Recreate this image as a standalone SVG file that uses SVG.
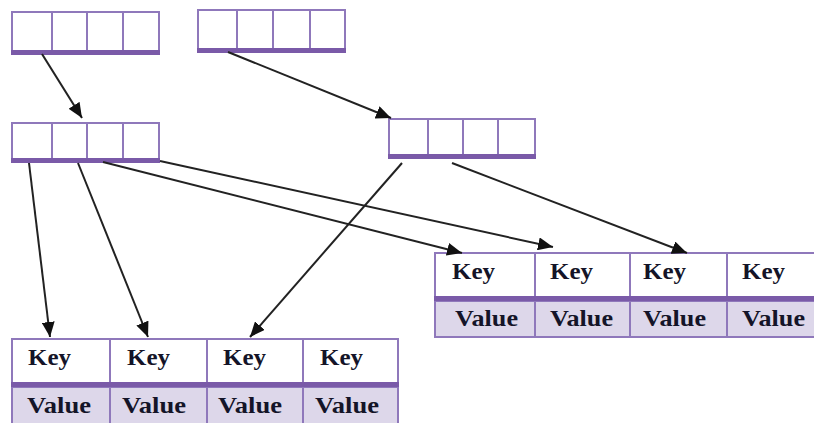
<svg xmlns="http://www.w3.org/2000/svg" width="814" height="423" viewBox="0 0 814 423">
  <style>
    .cell { fill: #ffffff; stroke: #8f78bb; stroke-width: 2; }
    .vcell { fill: #ddd7ea; stroke: #8f78bb; stroke-width: 2; }
    .div { stroke: #8f78bb; stroke-width: 2; }
    .bar { fill: #7a5aa8; }
    .edge { stroke: #222222; stroke-width: 2; fill: none; marker-end: url(#head); }
    .lbl { font-family: "Liberation Serif", "Times New Roman", serif; font-weight: bold; font-size: 23px; fill: #141428; }
  </style>
  <defs>
    <marker id="head" markerUnits="userSpaceOnUse" markerWidth="15" markerHeight="13" refX="15" refY="6.5" orient="auto">
      <path d="M0,0 L15,6.5 L0,13 z" fill="#111111"/>
    </marker>
  </defs>
  <rect width="814" height="423" fill="#ffffff"/>

  <!-- index arrays -->
  <g id="array-top-left">
    <rect class="cell" x="12" y="12" width="147" height="40"/>
    <path class="div" d="M52,12V52M87,12V52M123,12V52"/>
    <rect class="bar" x="11" y="50" width="149" height="5"/>
  </g>
  <g id="array-top-right">
    <rect class="cell" x="198" y="10" width="147" height="40"/>
    <path class="div" d="M237,10V50M273,10V50M310,10V50"/>
    <rect class="bar" x="197" y="48" width="149" height="5"/>
  </g>
  <g id="array-mid-left">
    <rect class="cell" x="12" y="123" width="147" height="37"/>
    <path class="div" d="M52,123V160M87,123V160M123,123V160"/>
    <rect class="bar" x="11" y="158" width="149" height="5"/>
  </g>
  <g id="array-mid-right">
    <rect class="cell" x="389" y="119" width="146" height="37"/>
    <path class="div" d="M428,119V156M463,119V156M498,119V156"/>
    <rect class="bar" x="388" y="154" width="148" height="5"/>
  </g>

  <!-- key/value table, right -->
  <g id="table-right">
    <rect class="cell" x="435" y="253" width="385" height="44"/>
    <rect class="vcell" x="435" y="301" width="385" height="36"/>
    <path class="div" d="M535,253V337M630,253V337M727,253V337"/>
    <rect class="bar" x="434" y="296" width="386" height="5"/>
    <text class="lbl" x="452" y="279" textLength="43" lengthAdjust="spacingAndGlyphs">Key</text>
    <text class="lbl" x="550" y="279" textLength="43" lengthAdjust="spacingAndGlyphs">Key</text>
    <text class="lbl" x="643" y="279" textLength="43" lengthAdjust="spacingAndGlyphs">Key</text>
    <text class="lbl" x="742" y="279" textLength="43" lengthAdjust="spacingAndGlyphs">Key</text>
    <text class="lbl" x="455" y="326" textLength="63" lengthAdjust="spacingAndGlyphs">Value</text>
    <text class="lbl" x="550" y="326" textLength="63" lengthAdjust="spacingAndGlyphs">Value</text>
    <text class="lbl" x="643" y="326" textLength="63" lengthAdjust="spacingAndGlyphs">Value</text>
    <text class="lbl" x="742" y="326" textLength="63" lengthAdjust="spacingAndGlyphs">Value</text>
  </g>

  <!-- key/value table, bottom -->
  <g id="table-bottom">
    <rect class="cell" x="12" y="339" width="386" height="44"/>
    <rect class="vcell" x="12" y="387" width="386" height="40"/>
    <path class="div" d="M110,339V427M207,339V427M303,339V427"/>
    <rect class="bar" x="11" y="382" width="388" height="5"/>
    <text class="lbl" x="28" y="365" textLength="43" lengthAdjust="spacingAndGlyphs">Key</text>
    <text class="lbl" x="127" y="365" textLength="43" lengthAdjust="spacingAndGlyphs">Key</text>
    <text class="lbl" x="223" y="365" textLength="43" lengthAdjust="spacingAndGlyphs">Key</text>
    <text class="lbl" x="320" y="365" textLength="43" lengthAdjust="spacingAndGlyphs">Key</text>
    <text class="lbl" x="27" y="413" textLength="64" lengthAdjust="spacingAndGlyphs">Value</text>
    <text class="lbl" x="122" y="413" textLength="64" lengthAdjust="spacingAndGlyphs">Value</text>
    <text class="lbl" x="218" y="413" textLength="64" lengthAdjust="spacingAndGlyphs">Value</text>
    <text class="lbl" x="315" y="413" textLength="64" lengthAdjust="spacingAndGlyphs">Value</text>
  </g>

  <!-- pointers -->
  <g id="connectors">
    <line class="edge" x1="42" y1="54" x2="82" y2="118"/>
    <line class="edge" x1="228" y1="52" x2="391" y2="118"/>
    <line class="edge" x1="29" y1="163" x2="50" y2="337"/>
    <line class="edge" x1="78" y1="163" x2="148" y2="337"/>
    <line class="edge" x1="103" y1="162" x2="462" y2="253"/>
    <line class="edge" x1="160" y1="161" x2="553" y2="247"/>
    <line class="edge" x1="402" y1="163" x2="250" y2="337"/>
    <line class="edge" x1="452" y1="163" x2="687" y2="253"/>
  </g>
</svg>
